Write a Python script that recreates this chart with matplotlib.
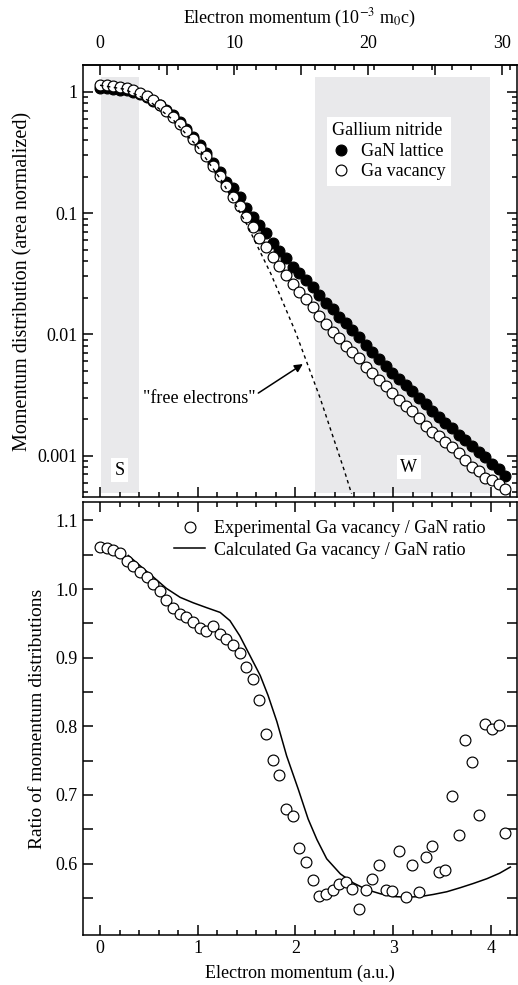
import numpy as np
import matplotlib
matplotlib.use("Agg")
import matplotlib.pyplot as plt
from matplotlib.lines import Line2D

plt.rcParams['font.family'] = ['Liberation Serif', 'DejaVu Serif']
plt.rcParams['mathtext.fontset'] = 'stix'
plt.rcParams['font.size'] = 13

# ---------------- data ----------------
AU_TO_MC = 7.297  # 1 a.u. = 7.297 x 10^-3 m0c

# momentum grid (a.u.)
momentum = np.arange(62) * 0.068

# Ga vacancy (open circles), area normalized
vacancy = [1.136, 1.129, 1.114, 1.093, 1.067, 1.027, 0.976, 0.917, 0.849, 0.772,
           0.697, 0.622, 0.545, 0.472, 0.405, 0.345, 0.293, 0.245, 0.203, 0.167,
           0.136, 0.114, 0.0933, 0.0763, 0.0618, 0.0521, 0.0436, 0.0366, 0.0308, 0.0260,
           0.0225, 0.0194, 0.0167, 0.0142, 0.0122, 0.0105, 0.00927, 0.00809, 0.00712, 0.00634,
           0.00540, 0.00482, 0.00420, 0.00375, 0.00330, 0.00287, 0.00256, 0.00234, 0.00203, 0.00175,
           0.00157, 0.00145, 0.00130, 0.00117, 0.00106, 0.00092, 0.00081, 0.00075, 0.00066, 0.00063,
           0.00058, 0.00053]

# GaN lattice (filled circles)
gan = [1.071, 1.065, 1.054, 1.039, 1.025, 0.994, 0.952, 0.902, 0.843, 0.774,
       0.708, 0.639, 0.565, 0.492, 0.425, 0.365, 0.312, 0.259, 0.217, 0.180,
       0.161, 0.135, 0.111, 0.0933, 0.0796, 0.0680, 0.0569, 0.0489, 0.0423, 0.0361,
       0.0318, 0.0280, 0.0244, 0.0211, 0.0182, 0.0161, 0.0140, 0.0124, 0.0108, 0.00950,
       0.00824, 0.00722, 0.00631, 0.00548, 0.00484, 0.00428, 0.00382, 0.00338, 0.00298, 0.00266,
       0.00235, 0.00210, 0.00187, 0.00168, 0.00149, 0.00135, 0.00120, 0.00108, 0.00097, 0.00086,
       0.00077, 0.00068]

# "free electrons" curve
free_x = [0, 0.25, 0.5, 0.75, 1.0, 1.25, 1.5, 1.75, 2.0, 2.25, 2.5, 2.575]
free_y = [1.13, 1.05, 0.843, 0.585, 0.351, 0.182, 0.0813, 0.0314, 0.0105, 0.00303, 0.000755, 0.000484]

# experimental ratio (bottom panel)
ratio_exp = [1.061, 1.060, 1.057, 1.052, 1.041, 1.033, 1.025, 1.017, 1.007, 0.997,
             0.984, 0.973, 0.964, 0.959, 0.952, 0.944, 0.939, 0.946, 0.934, 0.928,
             0.919, 0.907, 0.886, 0.869, 0.838, 0.789, 0.751, 0.729, 0.680, 0.670,
             0.623, 0.603, 0.576, 0.553, 0.556, 0.562, 0.570, 0.573, 0.563, 0.534,
             0.562, 0.578, 0.598, 0.562, 0.560, 0.618, 0.552, 0.598, 0.559, 0.610,
             0.626, 0.588, 0.590, 0.698, 0.642, 0.780, 0.748, 0.671, 0.803, 0.796,
             0.802, 0.644]

# calculated ratio
calc_x = [0.29, 0.41, 0.55, 0.68, 0.82, 0.955, 1.09, 1.23, 1.33, 1.43, 1.535, 1.64,
          1.72, 1.81, 1.91, 2.03, 2.13, 2.22, 2.32, 2.46, 2.59, 2.73, 2.87, 3.0,
          3.14, 3.28, 3.41, 3.55, 3.69, 3.82, 3.96, 4.09, 4.2]
calc_y = [1.049, 1.034, 1.017, 1.001, 0.988, 0.980, 0.973, 0.966, 0.954, 0.932, 0.903, 0.874,
          0.845, 0.807, 0.757, 0.708, 0.665, 0.635, 0.607, 0.585, 0.572, 0.562, 0.556, 0.552,
          0.551, 0.552, 0.555, 0.559, 0.565, 0.571, 0.578, 0.586, 0.595]

S_window = (0.01, 0.4)
W_window = (2.2, 3.99)

# ---------------- figure ----------------
fig = plt.figure(figsize=(5.18, 9.85), dpi=100)
ax1 = fig.add_axes([0.1597, 0.4954, 0.8384, 0.4386])
ax2 = fig.add_axes([0.1597, 0.0508, 0.8384, 0.4396])

xlim = (-0.177, 4.268)
shade = '#e9e9eb'
MS = 7.8
MEW = 0.85

for ax in (ax1, ax2):
    ax.set_xlim(*xlim)
    for s in ax.spines.values():
        s.set_linewidth(1.1)
    ax.tick_params(which='both', direction='in', top=True, right=True, width=1.1)
    ax.tick_params(which='major', length=7)
    ax.tick_params(which='minor', length=3.6)
    ax.set_xticks([0, 1, 2, 3, 4])
    ax.set_xticks(np.arange(0, 4.21, 0.2), minor=True)

# ----- top panel -----
ax1.set_yscale('log')
ax1.set_ylim(0.000456, 1.66)
ax1.axvspan(*S_window, ymin=0.01, ymax=0.973, color=shade, lw=0, zorder=0)
ax1.axvspan(*W_window, ymin=0.01, ymax=0.973, color=shade, lw=0, zorder=0)

ax1.plot(momentum, gan, 'o', ms=MS, mfc='black', mec='black', mew=MEW, zorder=3)
ax1.plot(momentum, vacancy, 'o', ms=MS, mfc='white', mec='black', mew=MEW, zorder=4)
ax1.plot(free_x, free_y, color='black', lw=1.0, ls=(0, (2.5, 2.5)), zorder=5)

ax1.set_yticks([0.001, 0.01, 0.1, 1])
ax1.set_yticklabels(['0.001', '0.01', '0.1', '1'])
ax1.tick_params(axis='x', labelbottom=False, top=False)
ax1.set_ylabel('Momentum distribution (area normalized)', labelpad=4, fontsize=14.5)

secax = ax1.secondary_xaxis('top', functions=(lambda x: x * AU_TO_MC, lambda x: x / AU_TO_MC))
secax.set_xticks([0, 10, 20, 30])
secax.set_xticks([5, 15, 25], minor=True)
secax.tick_params(which='both', direction='in', width=1.1, pad=9.5)
secax.tick_params(which='major', length=7)
secax.tick_params(which='minor', length=7)
secax.spines['top'].set_linewidth(1.1)
secax.set_xlabel('Electron momentum (10$^{-3}$ m$_0$c)', labelpad=8)

ax1.text(0.2, 0.00076, 'S', ha='center', va='center',
         bbox=dict(facecolor='white', edgecolor='none', pad=2.5), zorder=6)
ax1.text(3.16, 0.00080, 'W', ha='center', va='center',
         bbox=dict(facecolor='white', edgecolor='none', pad=2.5), zorder=6)

ax1.annotate('"free electrons"', xy=(2.076, 0.00569), xytext=(1.015, 0.00297),
             ha='center', va='center',
             arrowprops=dict(arrowstyle='-|>', color='black', lw=1.1,
                             mutation_scale=12, shrinkA=0, shrinkB=0,
                             relpos=(1.0, 0.7)))

h1 = [Line2D([], [], ls='none', marker='o', ms=MS, mfc='black', mec='black', mew=MEW),
      Line2D([], [], ls='none', marker='o', ms=MS, mfc='white', mec='black', mew=MEW)]
leg1 = ax1.legend(h1, ['GaN lattice', 'Ga vacancy'], title='Gallium nitride',
                  loc='upper left', bbox_to_anchor=(0.562, 0.880), frameon=True,
                  fancybox=False, framealpha=1, edgecolor='none', borderpad=0.3,
                  handlelength=1.0, handletextpad=0.6, labelspacing=0.2,
                  borderaxespad=0, alignment='left', title_fontsize=13)

# ----- bottom panel -----
ax2.set_ylim(0.496, 1.127)
ax2.set_yticks([0.6, 0.7, 0.8, 0.9, 1.0, 1.1])
ax2.set_yticklabels(['0.6', '0.7', '0.8', '0.9', '1.0', '1.1'])
ax2.set_yticks(np.arange(0.55, 1.13, 0.05), minor=True)
ax2.tick_params(axis='y', which='minor', length=7)

ax2.plot(momentum, ratio_exp, 'o', ms=MS, mfc='white', mec='black', mew=MEW, zorder=4,
         label='Experimental Ga vacancy / GaN ratio')
ax2.plot(calc_x, calc_y, color='black', lw=1.1, zorder=3,
         label='Calculated Ga vacancy / GaN ratio')
ax2.set_xlabel('Electron momentum (a.u.)', labelpad=6)
ax2.set_ylabel('Ratio of momentum distributions', labelpad=7, fontsize=14)
ax2.legend(loc='upper right', bbox_to_anchor=(0.945, 0.975), frameon=False,
           handlelength=1.75, handletextpad=0.5, labelspacing=0.25, borderaxespad=0)

fig.savefig('out.png', dpi=100)
